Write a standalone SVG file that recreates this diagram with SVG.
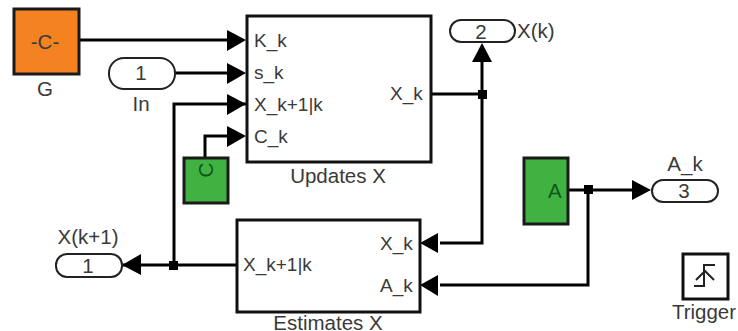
<svg xmlns="http://www.w3.org/2000/svg" width="738" height="331" viewBox="0 0 738 331">
<style>
text{font-family:"Liberation Sans",Arial,sans-serif;font-size:20.5px;fill:#3a3a3a}
.s{font-size:19px}
.d{fill:#14551c}
.b{stroke:#111;stroke-width:3;fill:#fff}
.p{stroke:#222;stroke-width:2;fill:#fff}
.w{stroke:#000;stroke-width:3;fill:none}
.a{fill:#000}
.m{text-anchor:middle}
</style>
<rect width="738" height="331" fill="#fff"/>
<g id="connectors">
<path class="w" d="M78 40H228M175 73H228M246 104H174V265H122M205 157V136H228M431 94H482M482 62V243H440M236 265H174M568 190H632M588 190V285H440"/>
<path class="a" d="M227 30L246 40L227 51ZM227 63L246 73L227 84ZM227 94L246 104L227 115ZM227 126L246 136L227 147ZM472 62L482 43L492 62ZM438 233L420 243L438 253ZM438 275L420 285L438 296ZM632 180L651 190L632 200ZM141 254L122 265L141 275Z"/>
<rect class="a" x="478" y="90" width="9" height="9"/><rect class="a" x="169" y="261" width="9" height="9"/><rect class="a" x="584" y="185" width="9" height="9"/>
</g>
<g id="G"><rect x="14" y="9" width="65" height="65" fill="#f58220" stroke="#1a1a1a" stroke-width="3"/><text class="m" x="45" y="49">-C-</text><text class="m" x="45" y="96">G</text></g>
<g id="In"><rect class="p" x="109" y="58" width="66" height="31" rx="15"/><text class="m" x="141" y="80">1</text><text class="m" x="141" y="111">In</text></g>
<g id="UpdatesX"><rect class="b" x="247" y="16" width="184" height="146"/><text class="s" x="254" y="47">K_k</text><text class="s" x="254" y="79">s_k</text><text class="s" x="254" y="111">X_k+1|k</text><text class="s" x="254" y="143">C_k</text><text class="s" x="390" y="100">X_k</text><text class="m" x="338" y="183">Updates X</text></g>
<g id="C"><rect x="184" y="158" width="44" height="45" fill="#3fb242" stroke="#1a1a1a" stroke-width="3"/><text class="m d" transform="translate(213 170) rotate(-90)">C</text></g>
<g id="EstimatesX"><rect class="b" x="237" y="220" width="183" height="92"/><text class="s" x="243" y="271">X_k+1|k</text><text class="s" x="380" y="250">X_k</text><text class="s" x="380" y="292">A_k</text><text class="m" x="328" y="329.5">Estimates X</text></g>
<g id="Out2"><rect class="p" x="450" y="20" width="65" height="22" rx="11"/><text class="m" x="481" y="39">2</text><text x="517" y="38">X(k)</text></g>
<g id="A"><rect x="524" y="158" width="44" height="66" fill="#3fb242" stroke="#1a1a1a" stroke-width="3"/><text class="d" x="548" y="198">A</text></g>
<g id="Out3"><rect class="p" x="652" y="180" width="66" height="22" rx="11"/><text class="m" x="684" y="198">3</text><text class="m" x="685" y="171">A_k</text></g>
<g id="Out1"><rect class="p" x="56" y="254" width="66" height="23" rx="11"/><text class="m" x="88" y="273">1</text><text class="m" x="88" y="244">X(k+1)</text></g>
<g id="Trigger"><rect x="683" y="254" width="45" height="45" fill="#fff" stroke="#111" stroke-width="3"/><path d="M694 286H704V265H715M696 280L705 271L714 280" fill="none" stroke="#222" stroke-width="2"/><text class="m" x="704" y="319">Trigger</text></g>
</svg>
